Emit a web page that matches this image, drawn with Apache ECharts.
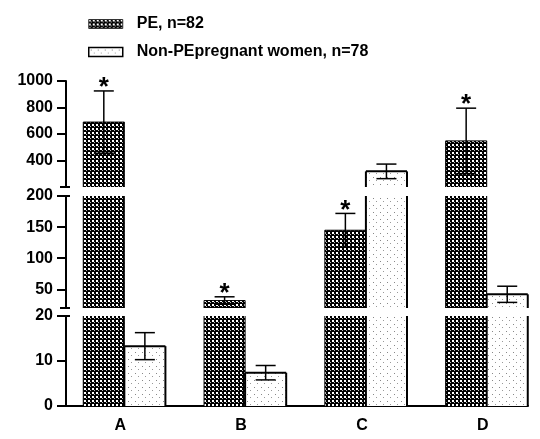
<!DOCTYPE html>
<html><head><meta charset="utf-8">
<script src="https://cdn.jsdelivr.net/npm/echarts@6.0.0/dist/echarts.min.js"></script>
<style>html,body{margin:0;padding:0;background:#fff}#c{width:540px;height:439px}</style>
</head><body><div id="c"></div>
<script>
// ---- data ----
const categories = ['A', 'B', 'C', 'D'];
const seriesNames = ['PE, n=82', 'Non-PEpregnant women, n=78'];
const peMean = [690, 32, 145, 548];
const peErr = [235, 6, 27, 247];
const nonPeMean = [13.3, 7.4, 318, 42];
const nonPeErr = [3.0, 1.6, 55, 13];
const peStars = ['*', '*', '*', '*'];
const nonPeStars = ['', '', '', ''];
// broken y axis segments [min, max] (top, middle, bottom)
const segTop = [200, 1000];
const segMid = [20, 200];
const segBot = [0, 20];
const ticksTop = [400, 600, 800, 1000];
const ticksMid = [50, 100, 150, 200];
const ticksBot = [0, 10, 20];
const xTickValues = [0, 1, 2, 3];

// ---- layout / style ----
const FONT = '"Liberation Sans", Arial, sans-serif';
const X_MIN = -0.483, X_MAX = 3.342;
const BAR_W = 0.34;
const segments = [segTop, segMid, segBot];
const tickSets = [ticksTop, ticksMid, ticksBot];
const grids = [
  { left: 66, right: 12, top: 81, height: 106 },
  { left: 66, right: 12, top: 196, height: 112 },
  { left: 66, right: 12, top: 316, height: 90 }
];

function makePattern(size, bg, rects, col, rects2, col2) {
  const c = document.createElement('canvas');
  c.width = size; c.height = size;
  const ctx = c.getContext('2d');
  ctx.fillStyle = bg; ctx.fillRect(0, 0, size, size);
  ctx.fillStyle = col;
  rects.forEach(r => ctx.fillRect(r[0], r[1], r[2], r[3]));
  if (rects2) { ctx.fillStyle = col2; rects2.forEach(r => ctx.fillRect(r[0], r[1], r[2], r[3])); }
  return { image: c, repeat: 'repeat' };
}
const pePattern = makePattern(4, '#000', [[0, 0, 2, 2]], '#fff', [[2, 2, 1, 1]], '#bbb');
const nonPePattern = makePattern(7, '#fff', [[2, 2, 1, 1]], '#888', [[5, 5, 1, 1]], '#999');

function barRenderer(seg, side, fill, stars, borderW) {
  return function (params, api) {
    const i = api.value(0), v = api.value(1), e = api.value(2);
    const lo = seg[0], hi = seg[1];
    const w = api.size([BAR_W, 0])[0];
    const xb = api.coord([i, lo])[0];
    const x0 = side < 0 ? xb - w : xb;
    const xc = x0 + w / 2;
    const yLo = api.coord([i, lo])[1];
    const ls = { stroke: '#000', lineWidth: borderW };
    const ch = [];
    if (v > lo) {
      const yTop = api.coord([i, Math.min(v, hi)])[1];
      ch.push({ type: 'rect', shape: { x: x0, y: yTop, width: w, height: yLo - yTop }, style: { fill: fill } });
      if (borderW > 0) {
        ch.push({ type: 'line', shape: { x1: x0, y1: yTop, x2: x0, y2: yLo }, style: ls });
        ch.push({ type: 'line', shape: { x1: x0 + w, y1: yTop, x2: x0 + w, y2: yLo }, style: ls });
        if (v <= hi) ch.push({ type: 'line', shape: { x1: x0, y1: yTop, x2: x0 + w, y2: yTop }, style: ls });
      }
    }
    const a = v - e, b = v + e;
    const ea = Math.max(a, lo), eb = Math.min(b, hi);
    const es = { stroke: '#000', lineWidth: 1.5 };
    if (ea < eb) {
      const ya = api.coord([i, ea])[1], yb = api.coord([i, eb])[1];
      ch.push({ type: 'line', shape: { x1: xc, y1: ya, x2: xc, y2: yb }, style: es });
    }
    if (a >= lo && a <= hi) {
      const y = api.coord([i, a])[1];
      ch.push({ type: 'line', shape: { x1: xc - 10, y1: y, x2: xc + 10, y2: y }, style: es });
    }
    if (b >= lo && b <= hi) {
      const y = api.coord([i, b])[1];
      ch.push({ type: 'line', shape: { x1: xc - 10, y1: y, x2: xc + 10, y2: y }, style: es });
      const s = stars[i];
      if (s) {
        ch.push({ type: 'text', x: xc, y: y - 3, style: { text: s, fill: '#000', font: 'bold 26px ' + FONT, align: 'center', verticalAlign: 'middle' } });
      }
    }
    return { type: 'group', children: ch };
  };
}

const xAxes = grids.map((g, k) => {
  const base = { type: 'value', gridIndex: k, min: X_MIN, max: X_MAX, splitLine: { show: false } };
  if (k < 2) return Object.assign(base, { show: false });
  return Object.assign(base, {
    axisLine: { show: true, onZero: false, lineStyle: { color: '#000', width: 2 } },
    axisTick: { show: false },
    axisLabel: {
      customValues: xTickValues, formatter: v => categories[Math.round(v)],
      fontSize: 16, fontWeight: 'bold', color: '#000', fontFamily: FONT, margin: 12, padding: [0, 8, 0, 0]
    }
  });
});
const yAxes = grids.map((g, k) => ({
  type: 'value', gridIndex: k, min: segments[k][0], max: segments[k][1],
  axisLine: { show: true, onZero: false, lineStyle: { color: '#000', width: 2 } },
  axisTick: { show: true, length: 9, customValues: tickSets[k], lineStyle: { color: '#000', width: 2 } },
  axisLabel: { customValues: tickSets[k], formatter: v => String(v), fontSize: 16, fontWeight: 'bold', color: '#000', fontFamily: FONT, margin: 13 },
  splitLine: { show: false }
}));

const series = [];
grids.forEach((g, k) => {
  series.push({
    type: 'custom', name: seriesNames[0], xAxisIndex: k, yAxisIndex: k, silent: true,
    itemStyle: { color: pePattern },
    renderItem: barRenderer(segments[k], -1, pePattern, peStars, 1),
    data: categories.map((c, i) => [i, peMean[i], peErr[i]])
  });
  series.push({
    type: 'custom', name: seriesNames[1], xAxisIndex: k, yAxisIndex: k, silent: true,
    itemStyle: { color: nonPePattern },
    renderItem: barRenderer(segments[k], 1, nonPePattern, nonPeStars, 2),
    data: categories.map((c, i) => [i, nonPeMean[i], nonPeErr[i]])
  });
});

const chart = echarts.init(document.getElementById('c'), null, { renderer: 'canvas' });
chart.setOption({
  animation: false,
  backgroundColor: '#fff',
  grid: grids,
  xAxis: xAxes,
  yAxis: yAxes,
  legend: {
    orient: 'vertical', left: 83, top: 11, itemWidth: 34, itemHeight: 9, itemGap: 12,
    icon: 'rect', selectedMode: false,
    textStyle: { fontSize: 16, fontWeight: 'bold', color: '#000', fontFamily: FONT, lineHeight: 16, padding: [0, 0, 0, 9] },
    data: [
      { name: seriesNames[0], itemStyle: { color: pePattern, borderColor: '#333', borderWidth: 1 } },
      { name: seriesNames[1], itemStyle: { color: nonPePattern, borderColor: '#000', borderWidth: 1.5 } }
    ]
  },
  series: series
});

// break marks at the segment ends of the y axis
const breakEnds = [[0, segTop[0]], [1, segMid[1]], [1, segMid[0]], [2, segBot[1]]];
const marks = breakEnds.map(([g, val]) => {
  const p = chart.convertToPixel({ gridIndex: g }, [X_MIN, val]);
  return { type: 'line', shape: { x1: p[0] - 6, y1: p[1], x2: p[0] + 4, y2: p[1] }, style: { stroke: '#000', lineWidth: 2 }, silent: true };
});
chart.setOption({ graphic: { elements: marks } });
</script>
</body></html>
